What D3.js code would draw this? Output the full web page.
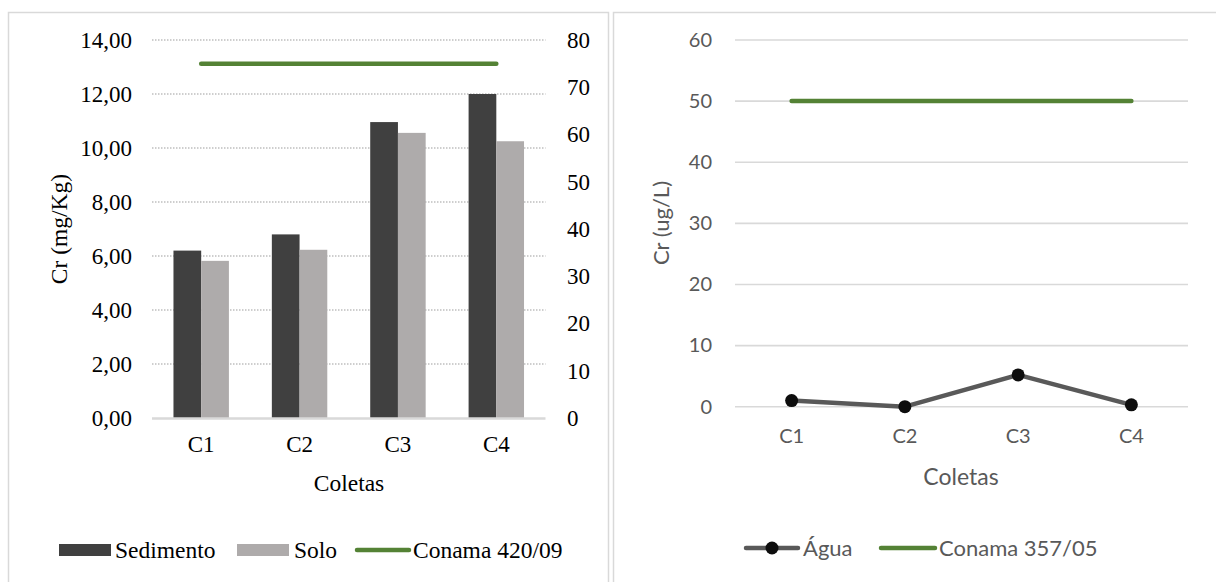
<!DOCTYPE html>
<html><head><meta charset="utf-8">
<script src="https://cdn.jsdelivr.net/npm/d3@7"></script>
<style>body{margin:0;background:#fff}svg{display:block}</style>
</head><body>
<svg id="c" width="1216" height="582"></svg>
<script>
// ---- data ----
const categories = ["C1", "C2", "C3", "C4"];
const sedimento = [6.2, 6.8, 10.96, 12.0];
const solo = [5.82, 6.23, 10.56, 10.25];
const conama420 = [75, 75, 75, 75];           // secondary axis
const leftTicks = [0, 2, 4, 6, 8, 10, 12, 14];
const rightTicks = [0, 10, 20, 30, 40, 50, 60, 70, 80];
const agua = [1.0, 0.0, 5.2, 0.3];
const conama357 = [50, 50, 50, 50];
const waterTicks = [0, 10, 20, 30, 40, 50, 60];
const barSeries = ["Sedimento", "Solo"];

const svg = d3.select("#c");
const GREEN = "#548235", DARK = "#404040", LIGHT = "#AEABAB", GRID = "#D9D9D9";
const SERIF = "'Liberation Serif','Times New Roman',serif";
const SANS = "Lato,'Open Sans',sans-serif";

// panel borders
svg.append("rect").attr("x", 8.5).attr("y", 12.5).attr("width", 600).attr("height", 580)
  .attr("fill", "none").attr("stroke", GRID).attr("stroke-width", 1.5);
svg.append("rect").attr("x", 613.5).attr("y", 12.5).attr("width", 610).attr("height", 580)
  .attr("fill", "none").attr("stroke", GRID).attr("stroke-width", 1.5);

// ===== Left chart =====
const L = svg.append("g");
const x0 = d3.scaleBand().domain(categories).range([152, 545.5]).padding(0);
const yL = d3.scaleLinear().domain([0, 14]).range([418, 40]);
const yR = d3.scaleLinear().domain([0, 80]).range([418, 40]);
const bw = x0.bandwidth();
const groupW = bw * 0.5635;
const x1 = d3.scaleBand().domain(barSeries).range([0, groupW]);
const fmtL = v => d3.format(".2f")(v).replace(".", ",");

// gridlines (dotted)
L.append("g").selectAll("line").data(leftTicks.filter(d => d > 0)).join("line")
  .attr("x1", 152).attr("x2", 545.5)
  .attr("y1", d => yL(d)).attr("y2", d => yL(d))
  .attr("stroke", "#BFBFBF").attr("stroke-width", 1.3).attr("stroke-dasharray", "1.5,1.5");

// left axis labels
const axL = L.append("g").attr("transform", "translate(132,0)")
  .call(d3.axisLeft(yL).tickValues(leftTicks).tickFormat(fmtL).tickSize(0).tickPadding(0));
axL.select(".domain").remove();
axL.selectAll("text").attr("font-family", SERIF).attr("font-size", 23).attr("fill", "#000");

// right axis labels
const axR = L.append("g").attr("transform", "translate(567,0)")
  .call(d3.axisRight(yR).tickValues(rightTicks).tickFormat(d3.format("d")).tickSize(0).tickPadding(0));
axR.select(".domain").remove();
axR.selectAll("text").attr("font-family", SERIF).attr("font-size", 23).attr("fill", "#000");

// bars
const rows = categories.map((c, i) => ({ c, vals: [sedimento[i], solo[i]] }));
const grp = L.append("g").selectAll("g").data(rows).join("g")
  .attr("transform", d => `translate(${x0(d.c) + (bw - groupW) / 2},0)`);
grp.selectAll("rect").data(d => d.vals.map((v, j) => ({ s: barSeries[j], v }))).join("rect")
  .attr("x", d => x1(d.s)).attr("width", x1.bandwidth())
  .attr("y", d => yL(d.v)).attr("height", d => yL(0) - yL(d.v))
  .attr("fill", d => d.s === "Sedimento" ? DARK : LIGHT);

// baseline
L.append("line").attr("x1", 152).attr("x2", 545.5).attr("y1", yL(0) + 0.5).attr("y2", yL(0) + 0.5)
  .attr("stroke", GRID).attr("stroke-width", 2.5);

// Conama 420/09 line (secondary axis)
const cx = c => x0(c) + bw / 2;
L.append("path").datum(conama420)
  .attr("d", d3.line().x((d, i) => cx(categories[i])).y(d => yR(d)))
  .attr("fill", "none").attr("stroke", GREEN).attr("stroke-width", 4.5).attr("stroke-linecap", "round");

// x axis labels
const axX = L.append("g").attr("transform", `translate(0,${yL(0)})`)
  .call(d3.axisBottom(x0).tickSize(0).tickPadding(18));
axX.select(".domain").remove();
axX.selectAll("text").attr("font-family", SERIF).attr("font-size", 23).attr("fill", "#000");

// titles
L.append("text").attr("x", 349).attr("y", 483).attr("dy", "0.35em").attr("text-anchor", "middle")
  .attr("font-family", SERIF).attr("font-size", 23.5).text("Coletas");
L.append("text").attr("transform", "translate(58.5,229) rotate(-90)").attr("dy", "0.35em")
  .attr("text-anchor", "middle").attr("font-family", SERIF).attr("font-size", 23.5).text("Cr (mg/Kg)");

// legend
const lg = L.append("g").attr("font-family", SERIF).attr("font-size", 23.5);
lg.append("rect").attr("x", 59).attr("y", 544).attr("width", 52).attr("height", 12).attr("fill", DARK);
lg.append("text").attr("x", 115).attr("y", 550).attr("dy", "0.35em").text("Sedimento");
lg.append("rect").attr("x", 237).attr("y", 544).attr("width", 52).attr("height", 12).attr("fill", LIGHT);
lg.append("text").attr("x", 294).attr("y", 550).attr("dy", "0.35em").text("Solo");
lg.append("line").attr("x1", 357).attr("x2", 409).attr("y1", 550).attr("y2", 550)
  .attr("stroke", GREEN).attr("stroke-width", 4.5).attr("stroke-linecap", "round");
lg.append("text").attr("x", 413).attr("y", 550).attr("dy", "0.35em").text("Conama 420/09");

// ===== Right chart =====
const R = svg.append("g");
const xw = d3.scaleBand().domain(categories).range([735, 1188]).padding(0);
const yw = d3.scaleLinear().domain([0, 60]).range([406.7, 40]);
const bww = xw.bandwidth();
const cxw = c => xw(c) + bww / 2;

R.append("g").selectAll("line").data(waterTicks).join("line")
  .attr("x1", 735).attr("x2", 1188)
  .attr("y1", d => yw(d)).attr("y2", d => yw(d))
  .attr("stroke", GRID).attr("stroke-width", 1.6);

const axW = R.append("g").attr("transform", "translate(712,0)")
  .call(d3.axisLeft(yw).tickValues(waterTicks).tickFormat(d3.format("d")).tickSize(0).tickPadding(0));
axW.select(".domain").remove();
axW.selectAll("text").attr("font-family", SANS).attr("font-size", 20).attr("fill", "#595959");

const axXW = R.append("g").attr("transform", `translate(0,${yw(0)})`)
  .call(d3.axisBottom(xw).tickSize(0).tickPadding(22));
axXW.select(".domain").remove();
axXW.selectAll("text").attr("font-family", SANS).attr("font-size", 20).attr("fill", "#595959");

R.append("path").datum(conama357)
  .attr("d", d3.line().x((d, i) => cxw(categories[i])).y(d => yw(d)))
  .attr("fill", "none").attr("stroke", GREEN).attr("stroke-width", 4.5).attr("stroke-linecap", "round");

R.append("path").datum(agua)
  .attr("d", d3.line().x((d, i) => cxw(categories[i])).y(d => yw(d)))
  .attr("fill", "none").attr("stroke", "#595959").attr("stroke-width", 4.5).attr("stroke-linejoin", "round");
R.append("g").selectAll("circle").data(agua).join("circle")
  .attr("cx", (d, i) => cxw(categories[i])).attr("cy", d => yw(d)).attr("r", 6.5).attr("fill", "#0D0D0D");

R.append("text").attr("x", 961).attr("y", 477).attr("dy", "0.35em").attr("text-anchor", "middle")
  .attr("font-family", SANS).attr("font-size", 23).attr("fill", "#595959").text("Coletas");
R.append("text").attr("transform", "translate(661,223) rotate(-90)").attr("dy", "0.35em")
  .attr("text-anchor", "middle").attr("font-family", SANS).attr("font-size", 22).attr("fill", "#595959").text("Cr (ug/L)");

const lw = R.append("g").attr("font-family", SANS).attr("font-size", 22).attr("fill", "#595959");
lw.append("line").attr("x1", 746).attr("x2", 798).attr("y1", 548).attr("y2", 548)
  .attr("stroke", "#595959").attr("stroke-width", 4.5).attr("stroke-linecap", "round");
lw.append("circle").attr("cx", 772).attr("cy", 548).attr("r", 6.5).attr("fill", "#0D0D0D");
lw.append("text").attr("x", 803).attr("y", 548).attr("dy", "0.35em").text("Água");
lw.append("line").attr("x1", 881).attr("x2", 935).attr("y1", 548).attr("y2", 548)
  .attr("stroke", GREEN).attr("stroke-width", 4.5).attr("stroke-linecap", "round");
lw.append("text").attr("x", 939).attr("y", 548).attr("dy", "0.35em").text("Conama 357/05");
</script>
</body></html>
